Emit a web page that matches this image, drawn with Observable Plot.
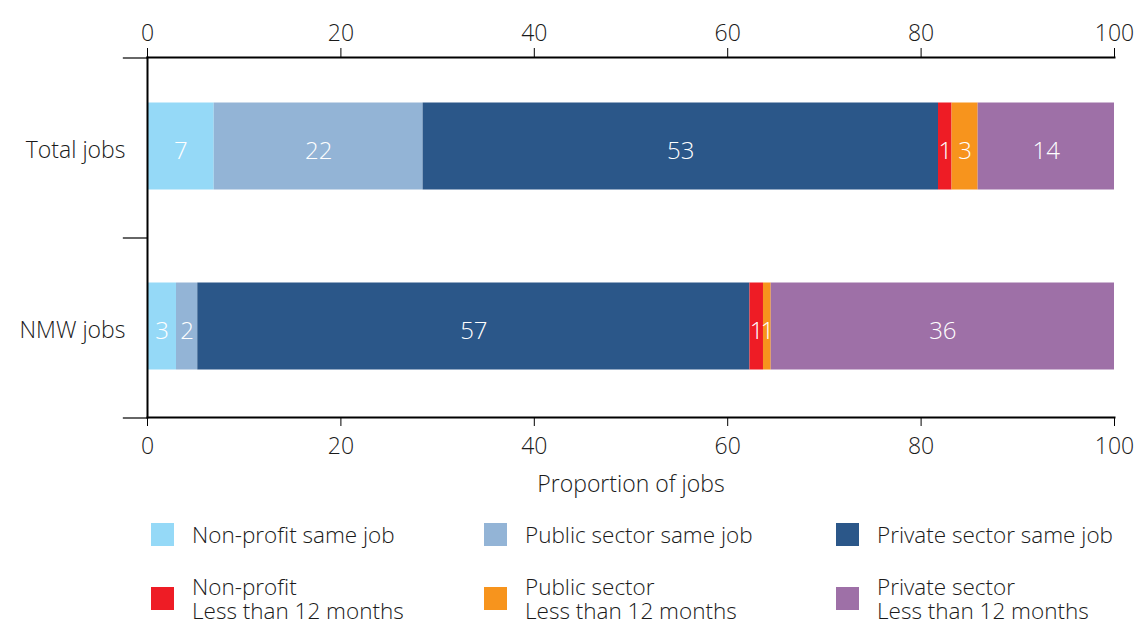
<!DOCTYPE html>
<html><head><meta charset="utf-8">
<script src="https://cdn.jsdelivr.net/npm/d3@7"></script>
<script src="https://cdn.jsdelivr.net/npm/@observablehq/plot@0.6"></script>
<style>
body{margin:0;background:#fff;font-family:"Open Sans",Roboto,Arial,sans-serif;font-weight:300;color:#1a1a1a}
#legend{display:grid;grid-template-columns:333px 352px 300px;padding-left:151px;row-gap:28px;margin-top:17.5px}
.item{display:flex;align-items:center;font-size:22.5px;line-height:24px}
.sw{width:23px;height:23px;flex:none;margin-right:18px}
</style></head><body><div id="chart"></div><div id="legend"></div>
<script>
const categories = ["Total jobs", "NMW jobs"];
const series = ["Non-profit same job", "Public sector same job", "Private sector same job",
  "Non-profit Less than 12 months", "Public sector Less than 12 months", "Private sector Less than 12 months"];
const legendLabels = [["Non-profit same job"], ["Public sector same job"], ["Private sector same job"],
  ["Non-profit", "Less than 12 months"], ["Public sector", "Less than 12 months"], ["Private sector", "Less than 12 months"]];
const totalJobs = [6.9, 21.6, 53.3, 1.4, 2.7, 14.1];
const nmwJobs = [3.0, 2.2, 57.1, 1.4, 0.8, 35.5];
const colors = ["#95d9f7", "#93b4d6", "#2b5789", "#ee1c25", "#f7941d", "#9e70a7"];
const xTicks = [0, 20, 40, 60, 80, 100];
const xLabel = "Proportion of jobs";

const seriesValues = [totalJobs, nmwJobs];
const rows = [];
categories.forEach((c, i) => series.forEach((s, j) => rows.push({category: c, series: s, value: seriesValues[i][j]})));

const W = 1136, H = 505, mt = 57, mb = 88, ml = 147, mr = 22;
const step = (H - mt - mb) / categories.length;
const FONT = '"Open Sans", Roboto, Arial, sans-serif';

const chart = Plot.plot({
  width: W, height: H, marginTop: mt, marginBottom: mb, marginLeft: ml, marginRight: mr,
  style: {fontFamily: FONT, fontSize: "23px", fontWeight: 300, color: "#1a1a1a", background: "#fff"},
  x: {domain: [0, 100]},
  y: {domain: categories, paddingInner: 0.517, paddingOuter: 0.2585},
  color: {domain: series, range: colors},
  marks: [
    Plot.barX(rows, Plot.stackX({x: "value", y: "category", fill: "series", z: "series", order: series, dy: -1.5})),
    Plot.text(rows, Plot.stackX({x: "value", y: "category", z: "series", order: series, text: d => Math.round(d.value), fill: "white", fontSize: 24, dy: 3})),
    Plot.axisX({anchor: "top", ticks: xTicks, tickSize: 10, tickPadding: 7, label: null, stroke: "#000"}),
    Plot.axisX({anchor: "bottom", ticks: xTicks, tickSize: 9, tickPadding: 11, label: xLabel, labelAnchor: "center", labelArrow: "none", labelOffset: 74, stroke: "#000"}),
    Plot.axisY({tickSize: 0, tickPadding: 22, label: null, dy: 3}),
    Plot.ruleY(categories, {y: d => d, dy: -step / 2, x1: -2.5, x2: 0, stroke: "#000", strokeWidth: 1.2}),
    Plot.ruleY([categories[categories.length - 1]], {y: d => d, dy: step / 2, x1: -2.5, x2: 0, stroke: "#000", strokeWidth: 1.2}),
    Plot.frame({anchor: "top", stroke: "#000", strokeWidth: 2}),
    Plot.frame({anchor: "bottom", stroke: "#000", strokeWidth: 2}),
    Plot.frame({anchor: "left", stroke: "#000", strokeWidth: 2})
  ]
});
document.getElementById("chart").appendChild(chart);

const legend = document.getElementById("legend");
series.forEach((s, j) => {
  const it = document.createElement("div");
  it.className = "item";
  const sw = document.createElement("div");
  sw.className = "sw";
  sw.style.background = colors[j];
  const t = document.createElement("div");
  t.innerHTML = legendLabels[j].join("<br>");
  it.appendChild(sw); it.appendChild(t);
  legend.appendChild(it);
});
</script></body></html>
